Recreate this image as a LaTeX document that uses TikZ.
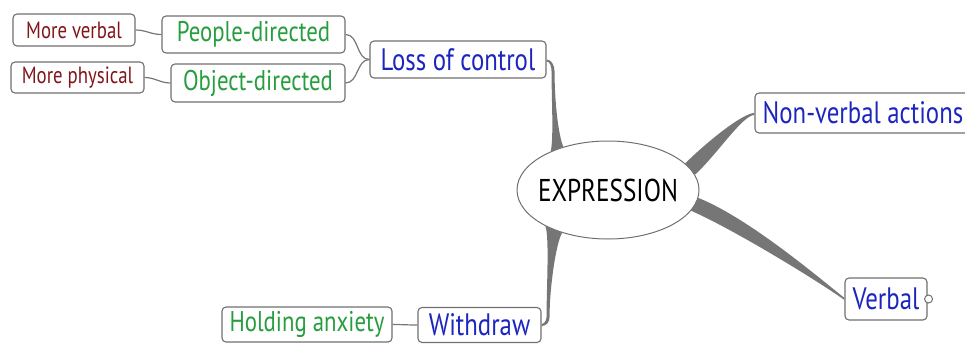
\documentclass[tikz,border=0pt]{standalone}
\usepackage{fontspec}
\setmainfont{PT Sans}[FakeStretch=0.8]
\usetikzlibrary{calc,shapes,positioning}
\definecolor{topicblue}{RGB}{28,38,190}
\definecolor{subgreen}{RGB}{38,158,62}
\definecolor{leafred}{RGB}{128,22,28}
\definecolor{boxgray}{RGB}{112,112,112}
\definecolor{branchgray}{RGB}{118,118,118}
\tikzstyle{topic}  = [draw=boxgray, line width=1.1pt, fill=white, rounded corners=4pt, inner sep=0pt, text=topicblue, font=\fontsize{31}{33}\selectfont]
\tikzstyle{sub}    = [topic, text=subgreen, font=\fontsize{28.5}{30}\selectfont]
\tikzstyle{leaf}   = [topic, text=leafred, font=\fontsize{23.5}{25}\selectfont]
\tikzstyle{branch} = [fill=branchgray]
\tikzstyle{link}   = [draw=branchgray, line width=1.2pt]

\begin{document}
\begin{tikzpicture}[x=1pt,y=-1pt,
		core/.style={ellipse, draw=boxgray, fill=white, line width=1pt, minimum width=182, minimum height=98, inner xsep=-30pt, inner ysep=0pt, font=\fontsize{31.5}{33}\selectfont},
		knob/.style={circle, draw=boxgray, fill=white, line width=1pt, minimum size=8, inner sep=0pt}]

		\clip (0,0) rectangle (965,343);

		\node[core] (expr) at (608,190) {EXPRESSION};

		\node[topic, minimum width=176, minimum height=37] (loss) at (458,59.5) {Loss of control};
		\node[topic, minimum width=216, minimum height=40] (nonverb) at (863,113) {Non-verbal actions};
		\node[topic, minimum width=82, minimum height=42] (verb) at (886,299) {Verbal};
		\node[knob, right=-3.5pt of verb] (verbknob) {};
		\node[topic, minimum width=123, minimum height=35] (withdraw) at (479.5,325) {Withdraw};

		\node[sub, minimum width=183, minimum height=37] (people) at (253.5,34.5) {People-directed};
		\node[sub, minimum width=174, minimum height=38] (object) at (258,83) {Object-directed};
		\node[sub, minimum width=170, minimum height=35] (anxiety) at (307,324.5) {Holding anxiety};

		\node[leaf, minimum width=122, minimum height=32] (mverbal) at (74,30) {More verbal};
		\node[leaf, minimum width=133, minimum height=31] (mphys) at (77.5,77.5) {More physical};

		\fill[branch] (expr.146) .. controls +(3,-15) and +(0,30) .. ($(loss.east)+(5,12)$)
			.. controls +(0,-6) and +(3,0) .. ($(loss.east)+(0,2)$) -- (loss.east)
			.. controls +(5,0) and +(0,-6) .. ($(loss.east)+(8,12)$)
			.. controls +(0,30) and +(-5,-12) .. (expr.136) -- cycle;
		\fill[branch] (expr.19) .. controls +(20,-20) and +(-12,0) .. ($(nonverb.west)+(0,0)$)
			-- ($(nonverb.west)+(0,2)$) .. controls +(-12,0) and +(22,-20) .. (expr.10) -- cycle;
		\fill[branch] (expr.-5) .. controls +(50,20) and +(-25,-20) .. ($(verb.west)+(0,-1)$)
			-- ($(verb.west)+(0,1)$) .. controls +(-25,-18) and +(45,20) .. (expr.-14) -- cycle;
		\fill[branch] (expr.-150) .. controls +(4,12) and +(0,-30) .. ($(withdraw.east)+(5,-8)$)
			.. controls +(0,4) and +(2,0) .. ($(withdraw.east)+(0,-1)$) -- ($(withdraw.east)+(0,1)$)
			.. controls +(5,0) and +(0,5) .. ($(withdraw.east)+(8,-8)$)
			.. controls +(0,-30) and +(-6,10) .. (expr.-137) -- cycle;

		\draw[link] (people.east) to[out=0,in=180] (loss.west);
		\draw[link] (object.east) to[out=0,in=180] (loss.west);
		\draw[link] (mverbal.east) to[out=0,in=180] (people.west);
		\draw[link] (mphys.east) to[out=0,in=180] (object.west);
		\draw[link] (anxiety.east) to[out=0,in=180] (withdraw.west);
	\end{tikzpicture}
\end{document}
